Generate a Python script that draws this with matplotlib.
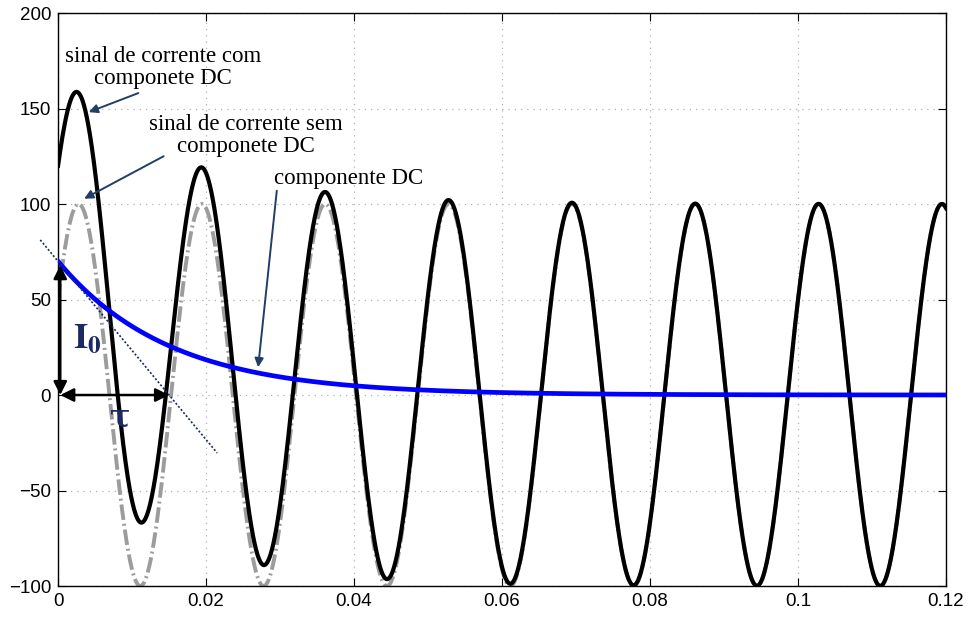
import numpy as np
import matplotlib.pyplot as plt

plt.rcParams['mathtext.fontset'] = 'stix'

# short-circuit current parameters
AMPLITUDE = 100.0      # peak of the symmetric AC current
FREQ = 60.0            # Hz
PHASE_DEG = 30.0       # switching angle
I0 = 70.0              # initial DC offset
TAU = 0.015            # DC decay time constant (s)
T_END = 0.12

x_ticks = [0, 0.02, 0.04, 0.06, 0.08, 0.1, 0.12]
x_tick_labels = ['0', '0.02', '0.04', '0.06', '0.08', '0.1', '0.12']
y_ticks = [-100, -50, 0, 50, 100, 150, 200]

navy = '#1f3f66'
label_navy = '#1b2a63'

t = np.linspace(0, T_END, 3000)
i_ac = AMPLITUDE * np.sin(2 * np.pi * FREQ * t + np.radians(PHASE_DEG))
i_dc = I0 * np.exp(-t / TAU)
i_total = i_ac + i_dc

fig = plt.figure(figsize=(9.69, 6.17), dpi=100)
ax = fig.add_axes([0.0599, 0.0502, 0.9164, 0.9287])

ax.plot(t, i_ac, color='#9c9c9c', lw=2.8, linestyle=(0, (4.0, 1.0, 0.5, 1.0)), zorder=2)
ax.plot(t, i_total, color='black', lw=3.0, zorder=3)
ax.plot(t, i_dc, color='#0000ff', lw=3.4, zorder=4)

ax.set_xlim(0, T_END)
ax.set_ylim(-100, 200)
ax.set_xticks(x_ticks)
ax.set_xticklabels(x_tick_labels)
ax.set_yticks(y_ticks)
ax.tick_params(direction='in', length=6, top=True, right=True, labelsize=13.5, pad=5)
for lab in ax.get_xticklabels() + ax.get_yticklabels():
    lab.set_fontfamily('Liberation Sans')
ax.grid(True, color='#b0b0b0', lw=0.9, linestyle=(0, (1, 4)))
for s in ax.spines.values():
    s.set_linewidth(1.0)

serif = 'Liberation Serif'
arrow_kw = dict(arrowstyle='-|>', color=navy, lw=1.4, mutation_scale=13)

ax.text(0.0142, 171.5, 'sinal de corrente com\ncomponete DC', ha='center', va='center',
        fontsize=16.5, family=serif, linespacing=1.05, zorder=6)
ax.annotate('', xy=(0.0038, 147.6), xytext=(0.0112, 158.6), arrowprops=arrow_kw, zorder=6)

ax.text(0.0254, 136.0, 'sinal de corrente sem\ncomponete DC', ha='center', va='center',
        fontsize=16.5, family=serif, linespacing=1.05, zorder=6)
ax.annotate('', xy=(0.0032, 102.1), xytext=(0.0146, 125.7), arrowprops=arrow_kw, zorder=6)

ax.text(0.0393, 113.6, 'componente DC', ha='center', va='center',
        fontsize=16.5, family=serif, zorder=6)
ax.annotate('', xy=(0.0270, 13.1), xytext=(0.0296, 108.4), arrowprops=arrow_kw, zorder=6)

# tangent to the DC decay at t = 0, crossing zero at tau
tx = np.array([-0.0024, 0.0215])
ax.plot(tx, I0 * (1 - tx / TAU), color=label_navy, lw=1.2, linestyle=(0, (1.2, 1.2)),
        clip_on=False, zorder=5)

dbl = dict(arrowstyle='<|-|>', color='black', lw=1.8, mutation_scale=20, shrinkA=0, shrinkB=0)
ax.annotate('', xy=(0.0003, I0 - 2), xytext=(0.0003, 0), arrowprops=dbl, zorder=6)
ax.annotate('', xy=(TAU, 0), xytext=(0.0003, 0), arrowprops=dbl, zorder=6)

ax.text(0.0039, 30, r'$\mathbf{I_0}$', ha='center', va='center', fontsize=26,
        color=label_navy, zorder=6)
ax.text(0.0084, -12, 'τ', ha='center', va='center', fontsize=22, fontweight='bold',
        family='DejaVu Serif', color=label_navy, zorder=6)

fig.savefig('out.png', dpi=100)
